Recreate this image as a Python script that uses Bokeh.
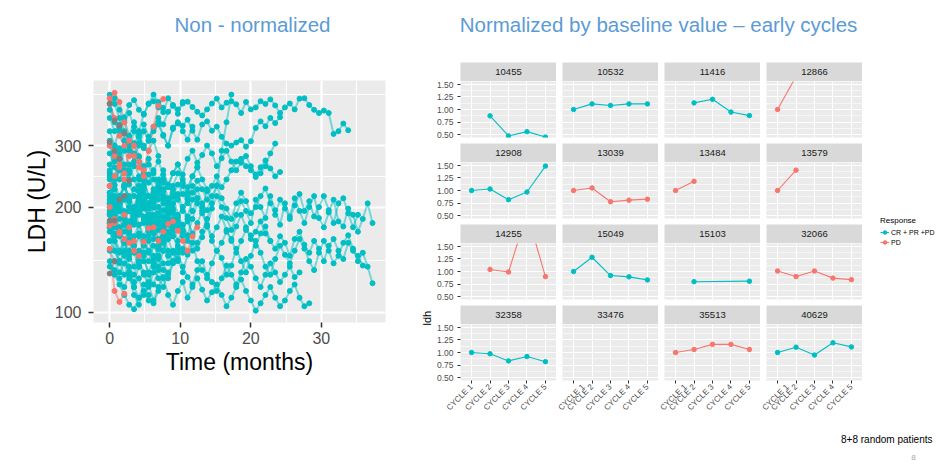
import math
from bokeh.plotting import figure
from bokeh.layouts import row, column
from bokeh.models import (Range1d, FixedTicker, LinearAxis, Legend, LegendItem,
                          NumeralTickFormatter, BasicTickFormatter)
from bokeh.core.properties import value
from bokeh.embed import file_html
from bokeh.resources import INLINE

FONT = "Liberation Sans"
TEAL = "#00BFC4"
RED = "#F8766D"
GREY = "#7F7F7F"
TITLE_BLUE = "#5B9BD5"

# ---------------- left panel data (LDH U/L per 3-week cycle) ----------------
cycle_months = 0.69  # 21 days expressed in months
x_ticks = [0, 10, 20, 30]
x_minor = [5, 15, 25, 35]
y_ticks = [100, 200, 300]
y_minor = [141, 245, 420]

t01 = [255, 300, 335, 362, 392, 405, 380, 368, 396, 402, 386, 374, 410, 392, 381, 396, 401, 387, 375, 366,
       381, 396, 409, 386, 398, 402, 394, 372, 400, 381, 386, 402, 395, 407, 391, 372, 386, 396, 381, 409,
       410, 392, 380, 372, 378, 372, 324, 330, 347, 332]
t02 = [210, 245, 275, 310, 290, 330, 305, 345, 318, 335, 350, 322, 300, 338, 347, 342, 356, 331, 312, 345,
       352, 331, 340, 318, 304, 300, 306, 311, 298, 309, 337, 352, 341, 360, 348, 362]
t03 = [192, 178, 205, 185, 170, 196, 210, 182, 175, 200, 188, 172, 195, 214, 190, 178, 166, 185, 205, 192,
       176, 198, 215, 200, 186, 172, 190, 208, 195, 180, 210, 200, 186, 215, 196, 178, 205, 188, 212, 195,
       180, 200, 215, 186, 175, 193, 210, 182, 176, 198, 190, 170, 185, 205, 180]
t04 = [205, 185, 170, 178, 160, 150, 165, 148, 140, 155, 145, 160, 138, 150, 142, 130, 146, 158, 140, 132,
       125, 138, 150, 143, 128, 136, 152, 140, 130, 145, 160, 148, 135, 128, 142, 155, 146, 138, 150, 162,
       152, 140, 132, 148, 160, 150, 138, 145, 158, 166, 152, 140, 148, 135, 121]
t05 = [180, 165, 172, 158, 175, 190, 168, 155, 170, 182, 162, 150, 168, 178, 160, 172, 185, 166, 152, 164,
       176, 160, 150, 158, 170, 162, 148, 160, 172, 166, 155, 168, 176, 160, 152, 165, 158, 145, 162, 170,
       156, 148, 160, 152, 140, 155, 162, 150, 142, 158, 150, 145, 136]
t06 = [220, 200, 215, 232, 210, 195, 222, 240, 215, 200, 226, 210, 192, 205, 218, 200, 188, 210, 225, 205,
       196, 215, 230, 212, 198, 185, 205, 220, 208, 192, 200, 215, 226, 205, 190, 210, 198, 185, 202, 218,
       195, 208, 188, 200, 215, 196, 180, 205, 212, 192, 175, 190]
t07 = [190, 160, 140, 128, 135, 118, 125, 112, 120, 108, 118, 126, 112, 105, 115, 122, 110, 118, 125, 116,
       108, 114, 120, 112, 104, 110, 118, 124, 115, 108, 101, 106, 112, 118, 110, 104, 108, 115, 120, 110,
       104, 106]
t08 = [175, 150, 138, 145, 130, 122, 135, 128, 118, 130, 142, 132, 125, 138, 148, 135, 126, 120, 132, 140,
       128, 122, 115, 125, 136, 128, 120, 130, 142, 135, 125, 118, 128, 138, 130, 122, 128, 135, 126, 130]
t09 = [230, 210, 195, 215, 200, 182, 198, 210, 190, 176, 192, 205, 185, 170, 188, 200, 182, 168, 180, 195,
       178, 165, 175, 188, 172, 160, 176, 190, 175, 162, 170, 182, 168, 160]
t10 = [180, 165, 150, 160, 142, 155, 138, 148, 160, 145, 135, 150, 162, 148, 140, 152, 165, 150, 158, 170,
       185, 205, 231, 290, 350, 420]
t11 = [240, 225, 210, 230, 215, 200, 222, 205, 190, 210, 228, 212, 198, 215, 232, 218, 205, 220, 238, 225,
       210, 230, 245, 228, 240, 255, 270, 275, 262, 255, 244, 250, 262, 285, 304]
t12 = [200, 185, 210, 195, 180, 198, 215, 200, 188, 205, 222, 240, 228, 250, 265, 248, 275, 290, 268, 282,
       300, 285, 262, 276, 290, 270, 255, 268, 280, 262, 248, 260, 272, 258, 245, 252]
s01 = [420, 395, 360, 330, 300, 285, 270, 250, 265, 240, 225, 240]
s02 = [395, 410, 380, 350, 372, 340, 318, 300, 290, 310, 280]
s03 = [360, 330, 345, 310, 290, 305, 280, 262, 275, 250, 238, 255, 230, 220]
s04 = [310, 280, 295, 265, 250, 270, 245, 230, 248, 225, 210, 225, 205]
s05 = [285, 260, 240, 255, 232, 215, 230, 210, 198, 215, 200, 188, 205, 192, 180]
s06 = [250, 232, 215, 228, 208, 195, 212, 198, 185, 200, 190, 175, 188, 195, 182, 170, 185, 195]
s07 = [230, 215, 198, 210, 195, 182, 200, 188, 175, 190, 178, 165, 180, 170]
s08 = [215, 200, 212, 190, 180, 195, 205, 185, 172, 188, 200, 182, 170, 185, 176, 165]
s09 = [200, 185, 195, 178, 168, 185, 196, 180, 165, 178, 190, 176, 162, 175, 186, 170, 160]
s10 = [190, 205, 185, 170, 182, 198, 178, 165, 180, 168, 155, 170, 182, 165, 152]
s11 = [180, 168, 175, 160, 150, 165, 178, 160, 148, 162, 172, 158, 145]
s12 = [170, 160, 148, 158, 145, 135, 150, 140, 130, 142, 152, 138, 128, 140]
s13 = [160, 150, 140, 148, 135, 128, 140, 130, 122, 135, 125, 118, 130]
s14 = [150, 140, 130, 138, 125, 118, 110, 120, 112, 106, 115]
s15 = [140, 132, 125, 118, 128, 112, 105, 115, 108]
s16 = [135, 128, 120, 112, 105, 102, 110]
s17 = [265, 240, 255, 228, 210, 225, 240, 218, 205, 220, 236, 215, 200, 225, 210, 195, 215, 230, 212, 200, 222]
s18 = [300, 270, 285, 255, 240, 262, 278, 250, 235, 255, 270, 248, 232, 250, 265, 240, 228, 245, 260]
s19 = [380, 350, 330, 355, 320, 300, 325, 295, 310, 330, 345, 320, 300, 335, 350, 330, 312, 340]
s20 = [205, 230, 260, 290, 320, 350, 330, 370, 395, 420, 400, 385]
s21 = [175, 190, 210, 230, 255, 280, 300, 330, 310, 340, 360, 345, 375, 390, 370, 400]
s22 = [160, 175, 168, 185, 200, 190, 210, 225, 205, 220, 240, 222, 210, 230, 250, 235, 220, 245, 260, 240, 225]
s23 = [220, 195, 175, 160, 172, 155, 145, 160, 150, 138, 152, 165, 150, 140, 155, 148]
s24 = [245, 225, 205, 185, 195, 178, 190, 205, 185, 170, 182, 196, 178, 165]
s25 = [330, 300, 275, 250, 265, 240, 222, 238, 215, 200, 218, 235, 212, 198, 215, 230, 210, 195, 212]
s26 = [195, 180, 165, 150, 162, 148, 135, 145, 128, 120, 132, 125]
r01 = [410, 425, 400, 350, 310, 280, 260, 245]
r02 = [230, 245, 265, 250, 280, 300, 270, 255, 290, 340, 390, 408]
r03 = [395, 360, 320, 300]
r04 = [152, 115, 107, 113]
r05 = [177, 180, 168, 162, 158, 150, 145, 159, 174, 175, 160, 170, 179, 182, 171, 160, 150, 165, 175]
r06 = [300, 280, 260, 240]
r07 = [200, 185, 170, 190, 175, 160]
g01 = [396, 354, 342, 325, 238]
g02 = [307, 290, 275]
g03 = [183, 183, 210, 215]
g04 = [129, 140]

teal_patients = [t01, t02, t03, t04, t05, t06, t07, t08, t09, t10, t11, t12,
                 s01, s02, s03, s04, s05, s06, s07, s08, s09, s10, s11, s12, s13,
                 s14, s15, s16, s17, s18, s19, s20, s21, s22, s23, s24, s25, s26]
red_patients = [r01, r02, r03, r04, r05, r06, r07]
grey_patients = [g01, g02, g03, g04]

# ---------------- right panel data (LDH normalized by baseline) ----------------
cycle_labels = ["CYCLE 1", "CYCLE 2", "CYCLE 3", "CYCLE 4", "CYCLE 5"]
cycle_pos = [1, 2, 3, 4, 5]
r_ticks = [0.5, 0.75, 1.0, 1.25, 1.5]
r_minor = [0.625, 0.875, 1.125, 1.375]
facet_ids = ["10455", "10532", "11416", "12866", "12908", "13039", "13484", "13579",
             "14255", "15049", "15103", "32066", "32358", "33476", "35513", "40629"]
facet_resp = ["CR + PR +PD", "CR + PR +PD", "CR + PR +PD", "PD", "CR + PR +PD", "PD", "PD", "PD",
              "PD", "CR + PR +PD", "CR + PR +PD", "PD", "CR + PR +PD", "CR + PR +PD", "PD", "CR + PR +PD"]
ldh_10455 = [None, 0.875, 0.48, 0.565, 0.46]
ldh_10532 = [1.00, 1.11, 1.08, 1.11, 1.11]
ldh_11416 = [None, 1.13, 1.20, 0.95, 0.88]
ldh_12866 = [1.00, 1.65, None, None, None]
ldh_12908 = [1.00, 1.03, 0.82, 0.97, 1.48]
ldh_13039 = [1.00, 1.05, 0.78, 0.81, 0.83]
ldh_13484 = [1.00, 1.18, None, None, None]
ldh_13579 = [1.00, 1.40, None, None, None]
ldh_14255 = [None, 1.04, 0.99, 2.15, 0.90]
ldh_15049 = [1.00, 1.28, 0.92, 0.895, 0.835]
ldh_15103 = [None, 0.80, None, None, 0.81]
ldh_32066 = [1.01, 0.90, 1.01, 0.87, 0.84]
ldh_32358 = [1.00, 0.975, 0.835, 0.92, 0.82]
ldh_33476 = [None, None, None, None, None]
ldh_35513 = [1.00, 1.06, 1.16, 1.16, 1.06]
ldh_40629 = [1.00, 1.105, 0.95, 1.19, 1.11]
facet_vals = [ldh_10455, ldh_10532, ldh_11416, ldh_12866, ldh_12908, ldh_13039, ldh_13484, ldh_13579,
              ldh_14255, ldh_15049, ldh_15103, ldh_32066, ldh_32358, ldh_33476, ldh_35513, ldh_40629]
legend_labels = ["CR + PR +PD", "PD"]
resp_colors = {"CR + PR +PD": TEAL, "PD": RED}


def bare(w, h, xr, yr, fw=None, fh=None, bl=0, br=0, bt=0, bb=0):
    kw = dict(width=w, height=h, x_range=xr, y_range=yr, output_backend="svg",
              toolbar_location=None, x_axis_location=None, y_axis_location=None,
              min_border_left=bl, min_border_right=br, min_border_top=bt, min_border_bottom=bb)
    if fw is not None:
        kw["frame_width"] = fw
    if fh is not None:
        kw["frame_height"] = fh
    p = figure(**kw)
    p.outline_line_color = None
    p.border_fill_color = "white"
    p.background_fill_color = "white"
    p.grid.visible = False
    return p


# ---------------- headers ----------------
left_header = bare(405, 45, Range1d(0, 405), Range1d(0, 45))
left_header.text(x=[220.5], y=[21], text=["Non - normalized"], text_align="center",
                 text_baseline="middle", text_font=value(FONT), text_font_size="20.5px",
                 text_color=TITLE_BLUE)
right_header = bare(535, 45, Range1d(0, 535), Range1d(0, 45))
right_header.text(x=[253], y=[21], text=["Normalized by baseline value \u2013 early cycles"],
                  text_align="center", text_baseline="middle", text_font=value(FONT),
                  text_font_size="20.5px", text_color=TITLE_BLUE)

# ---------------- left plot ----------------
lp = figure(width=405, height=420, frame_width=292, frame_height=242,
            x_range=Range1d(-2.3, 39.1), y_range=Range1d(93.4, 461), y_axis_type="log",
            output_backend="svg", toolbar_location=None,
            min_border_left=93, min_border_right=20, min_border_top=35, min_border_bottom=143,
            x_axis_label="Time (months)", y_axis_label="LDH (U/L)")
lp.outline_line_color = None
lp.border_fill_color = "white"
lp.background_fill_color = "#EBEBEB"
lp.xaxis.ticker = FixedTicker(ticks=x_ticks, minor_ticks=x_minor)
lp.yaxis.ticker = FixedTicker(ticks=y_ticks, minor_ticks=y_minor)
lp.yaxis.formatter = BasicTickFormatter()
lp.grid.grid_line_color = "white"
lp.grid.grid_line_width = 2.2
lp.grid.minor_grid_line_color = "white"
lp.grid.minor_grid_line_width = 1.1
for ax in (lp.xaxis, lp.yaxis):
    ax.axis_line_color = None
    ax.major_tick_line_color = "#333333"
    ax.major_tick_line_width = 1.5
    ax.major_tick_in = 0
    ax.major_tick_out = 5
    ax.minor_tick_line_color = None
    ax.major_label_text_font = FONT
    ax.major_label_text_font_size = "16px"
    ax.major_label_text_color = "#4D4D4D"
    ax.axis_label_text_font = FONT
    ax.axis_label_text_font_size = "23px"
    ax.axis_label_text_font_style = "normal"
    ax.axis_label_text_color = "black"
lp.xaxis.major_label_standoff = 4
lp.xaxis.axis_label_standoff = 2
lp.yaxis.major_label_standoff = 7
lp.yaxis.axis_label_standoff = 2

groups = [(teal_patients, TEAL), (red_patients, RED), (grey_patients, GREY)]
for plist, col in groups:
    xs = [[i * cycle_months for i in range(len(v))] for v in plist]
    lp.multi_line(xs=xs, ys=plist, line_color=col, line_alpha=0.5, line_width=2)
for plist, col in groups:
    px, py = [], []
    for v in plist:
        px += [i * cycle_months for i in range(len(v))]
        py += v
    lp.scatter(x=px, y=py, size=5, fill_color=col, line_color=col)

left_block = column(left_header, lp)

# ---------------- facet grid ----------------
col_bl = [28, 6, 6, 6]
grid_cols = []
for c in range(4):
    figs = []
    for r in range(4):
        k = r * 4 + c
        top = 17 if r == 0 else 0
        strip = bare(col_bl[c] + 96, top + 19, Range1d(0, 1), Range1d(0, 1), fw=96, fh=19,
                     bl=col_bl[c], bt=top)
        strip.background_fill_color = "#D9D9D9"
        strip.text(x=[0.5], y=[0.5], text=[facet_ids[k]], text_align="center",
                   text_baseline="middle", text_font=value(FONT), text_font_size="9.5px",
                   text_color="#1A1A1A")
        bb = 40 if r == 3 else 6
        pn = bare(col_bl[c] + 96, 56 + bb, Range1d(0.4, 5.6), Range1d(0.45, 1.55), fw=96, fh=56,
                  bl=col_bl[c], bb=bb)
        pn.background_fill_color = "#EBEBEB"
        pn.grid.visible = True
        pn.xgrid.ticker = FixedTicker(ticks=cycle_pos)
        pn.ygrid.ticker = FixedTicker(ticks=r_ticks, minor_ticks=r_minor)
        pn.grid.grid_line_color = "white"
        pn.grid.grid_line_width = 1.1
        pn.ygrid.minor_grid_line_color = "white"
        pn.ygrid.minor_grid_line_width = 0.55
        if c == 0:
            ya = LinearAxis(ticker=FixedTicker(ticks=r_ticks),
                            formatter=NumeralTickFormatter(format="0.00"))
            ya.axis_line_color = None
            ya.major_tick_line_color = "#333333"
            ya.major_tick_in = 0
            ya.major_tick_out = 3
            ya.minor_tick_line_color = None
            ya.major_label_standoff = 4
            ya.major_label_text_font = FONT
            ya.major_label_text_font_size = "8.5px"
            ya.major_label_text_color = "#4D4D4D"
            pn.add_layout(ya, "left")
        if r == 3:
            xa = LinearAxis(ticker=FixedTicker(ticks=cycle_pos),
                            major_label_overrides=dict(zip(cycle_pos, cycle_labels)),
                            major_label_orientation=math.pi / 4)
            xa.axis_line_color = None
            xa.major_tick_line_color = "#333333"
            xa.major_tick_in = 0
            xa.major_tick_out = 3
            xa.minor_tick_line_color = None
            xa.major_label_standoff = 2
            xa.major_label_text_font = FONT
            xa.major_label_text_font_size = "8px"
            xa.major_label_text_color = "#4D4D4D"
            pn.add_layout(xa, "below")
        vals = facet_vals[k]
        fx = [cycle_pos[i] for i, v in enumerate(vals) if v is not None]
        fy = [v for v in vals if v is not None]
        if fx:
            colr = resp_colors[facet_resp[k]]
            pn.line(x=fx, y=fy, line_color=colr, line_width=1.1)
            pn.scatter(x=fx, y=fy, size=4.5, fill_color=colr, line_color=colr)
        figs += [strip, pn]
    grid_cols.append(column(*figs))

# "ldh" axis title
ldh_fig = bare(27, 375, Range1d(0, 27), Range1d(0, 375))
ldh_fig.text(x=[21], y=[188], text=["ldh"], angle=math.pi / 2, text_align="center",
             text_baseline="middle", text_font=value(FONT), text_font_size="11px",
             text_color="black")

# legend (key glyphs come from renderers holding no visible data)
lg = bare(78, 375, Range1d(0, 1), Range1d(0, 1), fw=60, fh=204, bl=18, bt=171)
items = []
for lab in legend_labels:
    colr = resp_colors[lab]
    lr = lg.line(x=[float("nan")], y=[float("nan")], line_color=colr, line_width=1.1)
    sr = lg.scatter(x=[float("nan")], y=[float("nan")], size=4, fill_color=colr, line_color=colr)
    items.append(LegendItem(label=lab, renderers=[lr, sr]))
legend = Legend(items=items, title="Response", location="top_left", margin=0, padding=0, spacing=0,
                glyph_width=9, glyph_height=10, label_height=10, label_width=10,
                label_standoff=2, title_standoff=2,
                border_line_color=None, background_fill_alpha=0)
legend.title_text_font = FONT
legend.title_text_font_size = "8px"
legend.title_text_font_style = "normal"
legend.title_text_color = "black"
legend.label_text_font = FONT
legend.label_text_font_size = "7px"
legend.label_text_color = "black"
lg.add_layout(legend, "center")

grid_row = row(ldh_fig, *grid_cols, lg)

bottom = bare(535, 45, Range1d(0, 535), Range1d(0, 45))
bottom.text(x=[527], y=[26], text=["8+8 random patients"], text_align="right",
            text_baseline="middle", text_font=value(FONT), text_font_size="10px",
            text_color="black")
bottom.text(x=[508], y=[8], text=["8"], text_align="center", text_baseline="middle",
            text_font=value(FONT), text_font_size="8px", text_color="#A6A6A6")

right_block = column(right_header, grid_row, bottom)
layout = row(left_block, right_block)

open("out.html", "w").write(file_html(layout, INLINE))
